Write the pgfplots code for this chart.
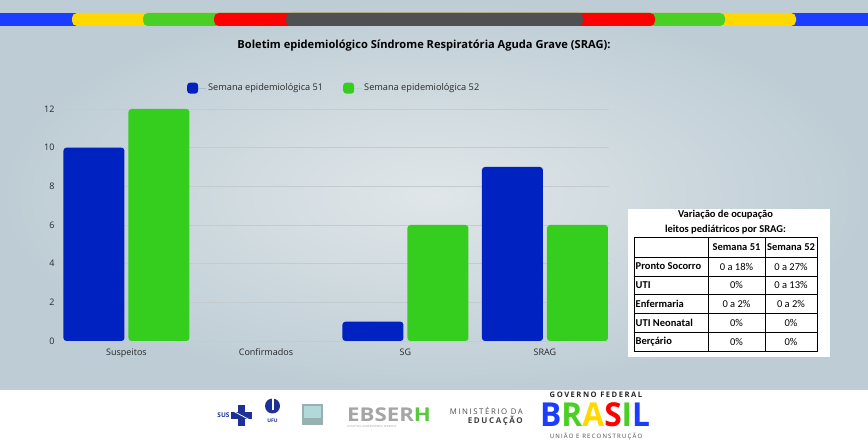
\documentclass[border=0pt]{standalone}
\usepackage{pgfplots}
\pgfplotsset{compat=1.18}
\usepackage{fontspec}
\setmainfont{Open Sans}
\newfontfamily\carlito{Carlito}
\newfontfamily\spaced[LetterSpace=20]{Open Sans}
\newfontfamily\spacedb[LetterSpace=20]{Open Sans}
\definecolor{barblue}{RGB}{0,34,192}
\definecolor{bargreen}{RGB}{54,206,30}
\definecolor{sblue}{RGB}{27,61,255}
\definecolor{syellow}{RGB}{255,216,0}
\definecolor{sgreen}{RGB}{74,207,36}
\definecolor{sred}{RGB}{255,0,0}
\definecolor{sgray}{RGB}{80,80,80}
\definecolor{bgin}{RGB}{224,230,233}
\definecolor{bgout}{RGB}{190,205,213}
\definecolor{gridc}{RGB}{196,203,207}
\definecolor{ticktext}{RGB}{40,40,40}
\definecolor{susblue}{RGB}{30,50,150}
\definecolor{ebgray}{RGB}{165,165,165}
\definecolor{ebgreen}{RGB}{90,200,60}
\begin{document}
\begin{tikzpicture}
\path[use as bounding box] (0,0) rectangle (868pt,-443pt);
\shade[inner color=bgin, outer color=bgout] (0,0) rectangle (868pt,-390pt);
\fill[white] (0,-390pt) rectangle (868pt,-443pt);
% top stripe
\fill[sblue] (0,-13pt) rectangle (868pt,-26pt);
\fill[syellow, rounded corners=5pt] (72pt,-13pt) rectangle (796pt,-26pt);
\fill[sgreen, rounded corners=5pt] (143pt,-13pt) rectangle (725pt,-26pt);
\fill[sred, rounded corners=5pt] (214pt,-13pt) rectangle (655pt,-26pt);
\fill[sgray, rounded corners=5pt] (286pt,-13pt) rectangle (583pt,-26pt);
% title
\node[font=\bfseries\fontsize{11.1}{13}\selectfont] at (424pt,-46pt) {Boletim epidemiológico Síndrome Respiratória Aguda Grave (SRAG):};
\begin{axis}[
  at={(63pt,-341pt)}, anchor=south west,
  scale only axis, width=546pt, height=232pt,
  xmin=-0.455, xmax=3.459, ymin=0, ymax=12,
  ybar=4pt, bar width=61pt,
  xtick={0,1,2,3}, xticklabels={Suspeitos,Confirmados,SG,SRAG},
  ytick={0,2,...,12},
  ymajorgrids, major grid style={gridc, line width=0.8pt},
  axis line style={draw=none},
  tick style={draw=none},
  tick label style={font=\fontsize{9}{10}\selectfont, text=ticktext},
  yticklabel style={xshift=-5pt},
  /pgf/number format/assume math mode=true,
  legend style={at={(0.227,1.09)}, anchor=west, draw=none, fill=none,
    font=\fontsize{9.2}{10}\selectfont, text=ticktext, inner xsep=0pt,
    /tikz/every even column/.append style={column sep=18pt}},
  legend columns=2,
  clip=false,
]
\addplot[fill=barblue, draw=none, rounded corners=3pt,
  legend image code/.code={\fill[barblue] (0pt,-5.5pt) rectangle (11pt,5.5pt); \path (0pt,0pt) -- (19pt,0pt);}]
  coordinates {(0,10) (2,1) (3,9)};
\addlegendentry{Semana epidemiológica 51}
\addplot[fill=bargreen, draw=none, rounded corners=3pt,
  legend image code/.code={\fill[bargreen] (0pt,-5.5pt) rectangle (11pt,5.5pt); \path (0pt,0pt) -- (19pt,0pt);}]
  coordinates {(0,12) (2,6) (3,6)};
\addlegendentry{Semana epidemiológica 52}
\end{axis}
% table
\fill[white] (628pt,-209pt) rectangle (830pt,-357pt);
\begin{scope}[font=\carlito\fontsize{10.5}{12}\selectfont]
\node[font=\carlito\bfseries\fontsize{10.5}{12}\selectfont] at (725.5pt,-215pt) {Variação de ocupação};
\node[font=\carlito\bfseries\fontsize{10.5}{12}\selectfont] at (725.5pt,-229.5pt) {leitos pediátricos por SRAG:};
\draw[line width=0.8pt] (634pt,-237pt) rectangle (817pt,-351pt);
\foreach \y in {257,276,294.5,313.5,332} \draw[line width=0.8pt] (634pt,-\y pt) -- (817pt,-\y pt);
\foreach \x in {708,765} \draw[line width=0.8pt] (\x pt,-237pt) -- (\x pt,-351pt);
\node[font=\carlito\bfseries\fontsize{10.5}{12}\selectfont] at (736.5pt,-247pt) {Semana 51};
\node[font=\carlito\bfseries\fontsize{10.5}{12}\selectfont] at (791pt,-247pt) {Semana 52};
\foreach \yy/\a/\b/\c in {266.5/Pronto Socorro/0 a 18\%/0 a 27\%, 285/UTI/0\%/0 a 13\%, 304/Enfermaria/0 a 2\%/0 a 2\%, 323/UTI Neonatal/0\%/0\%, 341.5/Berçário/0\%/0\%}{
  \node[anchor=west, inner xsep=1.5pt, font=\carlito\bfseries\fontsize{10.5}{12}\selectfont] at (634pt,-\yy pt) {\a};
  \node at (736.5pt,-\yy pt) {\b};
  \node at (791pt,-\yy pt) {\c};
}
\end{scope}
% footer logos
\node[font=\bfseries\fontsize{6.5}{7}\selectfont, text=susblue] at (223.5pt,-415pt) {SUS};
\fill[susblue] (238pt,-405pt) rectangle (245pt,-426pt);
\fill[susblue] (231pt,-412pt) rectangle (252pt,-419pt);
\draw[white, line width=0.8pt] (233pt,-411pt) -- (250pt,-420pt);
\fill[susblue] (272.5pt,-406pt) circle (7.5pt);
\fill[white] (271.5pt,-398pt) rectangle (273.5pt,-410pt);
\node[font=\bfseries\fontsize{5}{6}\selectfont, text=susblue] at (272.5pt,-421pt) {UFU};
\fill[black!10!teal!35!gray!60] (302pt,-404pt) rectangle (323pt,-425pt);
\fill[teal!30!white] (304pt,-406pt) rectangle (321pt,-418pt);
\node[font=\bfseries\fontsize{19}{20}\selectfont, inner sep=0pt, anchor=base west, text=ebgray, xscale=1.17] at (347pt,-422pt) {EBSER\textcolor{ebgreen}{H}};
\node[font=\fontsize{2.8}{3}\selectfont, text=ebgray, anchor=west, inner sep=0pt] at (347pt,-426pt) {HOSPITAIS UNIVERSITÁRIOS FEDERAIS};
\node[font=\spaced\fontsize{7.8}{8}\selectfont, text=black!70, anchor=east, inner sep=0pt] at (523pt,-411pt) {MINISTÉRIO DA};
\node[font=\spacedb\bfseries\fontsize{8}{8}\selectfont, text=black!75, anchor=east, inner sep=0pt] at (523pt,-421pt) {EDUCAÇÃO};
\node[font=\spacedb\bfseries\fontsize{7.6}{8}\selectfont, text=black!85, inner sep=0pt] at (596pt,-395pt) {GOVERNO FEDERAL};
\node[font=\bfseries\fontsize{33}{34}\selectfont, inner sep=0pt, anchor=base west, xscale=0.96] at (540pt,-427pt) {\textcolor{sblue}{B}\textcolor{sgreen}{R}\textcolor{syellow}{A}\textcolor{sred}{S}\textcolor{sgreen}{I}\textcolor{sblue}{L}};
\node[font=\spaced\fontsize{6}{6}\selectfont, text=black!70, inner sep=0pt] at (596pt,-437pt) {UNIÃO E RECONSTRUÇÃO};
\end{tikzpicture}
\end{document}
